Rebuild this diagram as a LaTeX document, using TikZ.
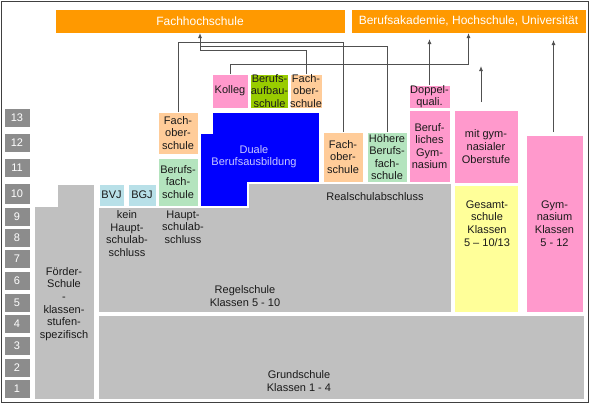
\documentclass[tikz,border=0pt]{standalone}
\usepackage{fontspec}
\setmainfont{Liberation Sans}
\usetikzlibrary{arrows.meta,calc}
\definecolor{blockgray}{HTML}{C0C0C0}
\definecolor{gradegray}{HTML}{8C8C8C}
\definecolor{txt}{HTML}{1A1A1A}
\definecolor{hdrorange}{HTML}{FF9900}
\definecolor{pinkbox}{HTML}{FF99CC}
\definecolor{limebox}{HTML}{99CC00}
\definecolor{peachbox}{HTML}{FFCC99}
\definecolor{mintbox}{HTML}{B4E4BE}
\definecolor{lbluebox}{HTML}{B8E0E8}
\definecolor{yellowbox}{HTML}{FFFF99}
\definecolor{bluebox}{HTML}{0000FF}
\definecolor{bluetext}{HTML}{C8C8FF}
\definecolor{linegray}{HTML}{505050}
\definecolor{framegray}{HTML}{404040}
\newcommand\myBody{\fontsize{11}{12.6}\selectfont}
\newcommand\myHdr{\fontsize{12}{14}\selectfont}
\begin{document}
\begin{tikzpicture}[x=1pt,y=-1pt,
  every node/.style={inner sep=0pt, outer sep=0pt},
  fillbox/.style={draw=white, line width=1pt, align=center, font=\myBody, text=txt},
  grade/.style={fillbox, fill=gradegray, text=white, minimum width=26pt, minimum height=19pt},
  lbl/.style={align=center, font=\myBody, text=txt},
  conn/.style={draw=linegray, line width=0.9pt},
  arr/.style={conn, -{Latex[length=5pt,width=4pt]}},
  hdr/.style={fill=hdrorange, draw=white, line width=1pt, text=white, font=\myHdr, minimum height=24pt},
  shapefill/.style={draw=white, line width=1pt}
]
\useasboundingbox (0,0) rectangle (590,405);
\fill[white] (0,0) rectangle (590,405);
\draw[framegray, line width=1.5pt] (1.5,1.5) rectangle (588.3,402.5);

% grade boxes
\node[grade] (g13) at (17,118) {13};
\node[grade] (g12) at (17,142.5) {12};
\node[grade] (g11) at (17,168) {11};
\node[grade, minimum height=21pt] (g10) at (17,193.5) {10};
\node[grade] (g9) at (17,216.5) {9};
\node[grade] (g8) at (17,237.5) {8};
\node[grade] (g7) at (17,258.5) {7};
\node[grade] (g6) at (17,281) {6};
\node[grade] (g5) at (17,302.5) {5};
\node[grade] (g4) at (17,324) {4};
\node[grade] (g3) at (17,346) {3};
\node[grade] (g2) at (17,367.5) {2};
\node[grade] (g1) at (17,388.5) {1};

% headers
\node[hdr, minimum width=290pt] (fh) at (200,21) {Fachhochschule};
\node[hdr, minimum width=235pt] (ba) at (468.5,21) {Berufsakademie, Hochschule, Universität};

% large gray areas
\path[shapefill, fill=blockgray] (34,206) -- (57,206) -- (57,184) -- (94,184) -- (94,399) -- (34,399) -- cycle;
\node[lbl] (foerder) at (64,304) {Förder-\\Schule\\-\\klassen-\\stufen-\\spezifisch};
\path[shapefill, fill=blockgray] (98,207.5) -- (248,207.5) -- (248,183) -- (451,183) -- (451,312) -- (98,312) -- cycle;
\node[lbl] (regel) at (245,296) {Regelschule\\Klassen 5 - 10};
\node[lbl] (real) at (375,197) {Realschulabschluss};
\node[lbl] (keinhs) at (127,233.5) {kein\\Haupt-\\schulab-\\schluss};
\node[lbl] (hs) at (183,227) {Haupt-\\schulab-\\schluss};
\node[fillbox, fill=blockgray, minimum width=486pt, minimum height=84pt] (grund) at (341,357) {};
\node[lbl] (grundtxt) at (299,381) {Grundschule\\Klassen 1 - 4};

% duale
\path[shapefill, fill=bluebox] (212,112) -- (319,112) -- (319,182) -- (247,182) -- (247,206) -- (200,206) -- (200,133) -- (212,133) -- cycle;
\node[lbl, text=bluetext] (duale) at (254,156.5) {Duale\\Berufsausbildung};

% small boxes
\node[fillbox, fill=lbluebox, minimum width=25pt, minimum height=22pt] (bvj) at (111.5,195) {BVJ};
\node[fillbox, fill=lbluebox, minimum width=28pt, minimum height=22pt] (bgj) at (142,195) {BGJ};
\node[fillbox, fill=mintbox, minimum width=40pt, minimum height=48pt] (bfs) at (178,182) {Berufs-\\fach-\\schule};
\node[fillbox, fill=peachbox, minimum width=40pt, minimum height=42pt] (fosl) at (178,133) {Fach-\\ober-\\schule};
\node[fillbox, fill=pinkbox, minimum width=36pt, minimum height=34pt] (kol) at (230,91) {Kolleg};
\node[fillbox, fill=limebox, minimum width=37pt, minimum height=34pt] (bas) at (269.5,91) {Berufs-\\aufbau-\\schule};
\node[fillbox, fill=peachbox, minimum width=32pt, minimum height=34pt] (fost) at (306,91) {Fach-\\ober-\\schule};
\node[fillbox, fill=peachbox, minimum width=40pt, minimum height=50pt] (fosr) at (343,157) {Fach-\\ober-\\schule};
\node[fillbox, fill=mintbox, minimum width=40pt, minimum height=50pt] (hbfs) at (387,157) {Höhere\\Berufs-\\fach-\\schule};
\node[fillbox, fill=pinkbox, minimum width=41pt, minimum height=72pt] (bg) at (429.5,146) {Beruf-\\liches\\Gym-\\nasium};
\node[fillbox, fill=pinkbox, minimum width=41pt, minimum height=23pt] (dq) at (429.5,96.5) {Doppel-\\quali.};
\node[fillbox, fill=pinkbox, minimum width=64pt, minimum height=73pt] (mgo) at (486,146.5) {mit gym-\\nasialer\\Oberstufe};
\node[fillbox, fill=yellowbox, minimum width=64pt, minimum height=127pt] (gs) at (486,248.5) {};
\node[lbl] (gstxt) at ($(gs.north)+(1,38.5)$) {Gesamt-\\schule\\Klassen\\5 – 10/13};
\node[fillbox, fill=pinkbox, minimum width=57pt, minimum height=177pt] (gym) at (554.5,223.5) {Gym-\\nasium\\Klassen\\5 - 12};

% connectors
\draw[conn] (fosl.north) |- ($(fosr.north)+(0,-90)$) -- (fosr.north);
\draw[arr] (hbfs.north) |- ($(fh.south)+(0,13)$) -- (fh.south);
\draw[conn] (fost.north) |- ($(fh.south)+(0,17)$) -- ($(fh.south)+(0,13)$);
\draw[arr] (kol.north) |- ($(ba.south)+(0,31)$) -- (ba.south);
\draw[arr] (dq.north) -- ++(0,-46);
\draw[arr] ($(mgo.north)+(-5,-8)$) -- ++(0,-36);
\draw[arr] ($(gym.north)+(-1,-3)$) -- ++(0,-92);
\end{tikzpicture}
\end{document}
